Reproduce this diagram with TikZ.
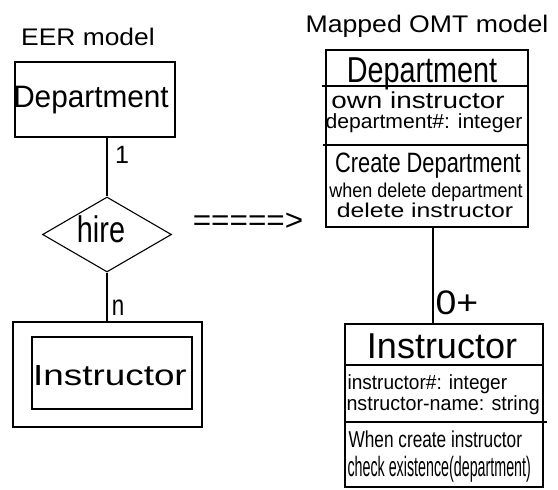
\documentclass[tikz,border=0pt]{standalone}
\usepackage{fontspec}
\setmainfont{Liberation Sans}
\usepackage{graphicx}
\usetikzlibrary{shapes.geometric}
\newcommand{\ftxt}[3]{{\fontsize{#1pt}{#1pt}\selectfont\scalebox{#2}[1]{#3}}}
\begin{document}
\begin{tikzpicture}[x=1pt,y=-1pt, line width=1.1pt,
  lbl/.style={inner sep=0pt, anchor=base},
  lbll/.style={inner sep=0pt, anchor=base west},
  box/.style={draw, rectangle, inner sep=0pt},
  rel/.style={draw, diamond, inner sep=0pt}]
\useasboundingbox (0,0) rectangle (558,490);

% ---------- EER side ----------
\node[lbl] (eertitle) at (88,45) {\ftxt{24}{1.1}{EER model}};
\node[box, minimum width=160pt, minimum height=75pt] (erdep) at (95,99.5) {};
\node[lbl] (erdeptxt) at (91,107) {\ftxt{31}{0.96}{Department}};
\node[rel, minimum width=129pt, minimum height=75pt] (hire) at (107,234.5) {};
\node[lbl] (hiretxt) at (101,242) {\ftxt{37}{0.78}{hire}};
\node[box, minimum width=189pt, minimum height=105pt] (erinst) at (107.5,374.5) {};
\node[box, minimum width=160pt, minimum height=72pt] (erinstin) at (112,373) {};
\node[lbl] (erinsttxt) at (110,385) {\ftxt{29}{1.27}{Instructor}};
\draw (hire.north |- erdep.south) -- (hire.north);
\draw (hire.south) -- (hire.south |- erinst.north);
\node[lbl] (one) at (122,163) {\ftxt{25}{1}{1}};
\node[lbl] (many) at (118,315) {\ftxt{29}{0.77}{n}};

% ---------- mapping arrow ----------
\node[inner sep=0pt] (maparrow) at (248,222) {\ftxt{30}{1.05}{=====>}};

% ---------- OMT side ----------
\node[lbl] (omttitle) at (427,32) {\ftxt{24}{1.11}{Mapped OMT model}};
\node[box, minimum width=202pt, minimum height=177pt] (omtdep) at (427,138.5) {};
\draw (322,86) -- (omtdep.east |- 0,86);
\draw (323,145) -- (omtdep.east |- 0,145);
\node[lbl] (od1) at (422,82) {\ftxt{36}{0.8}{Department}};
\node[lbl] (od2) at (418,108) {\ftxt{23}{1.21}{own instructor}};
\node[lbl] (od3) at (424,128) {\ftxt{20.5}{1.03}{department\#: integer}};
\node[lbl] (od4) at (428,172) {\ftxt{28}{0.78}{Create Department}};
\node[lbl] (od5) at (426,197) {\ftxt{20}{0.9}{when delete department}};
\node[lbl] (od6) at (425,217) {\ftxt{20}{1.24}{delete instructor}};

\node[box, minimum width=198pt, minimum height=163pt] (omtinst) at (444,405.5) {};
\draw (omtinst.west |- 0,365) -- (omtinst.east |- 0,365);
\draw (omtinst.west |- 0,422) -- (547,422);
\node[lbl] (oi1) at (442,358) {\ftxt{36}{1.0}{Instructor}};
\node[lbll] (oi2) at (347,389) {\ftxt{20.5}{0.93}{instructor\#: integer}};
\node[lbll] (oi3) at (346,410) {\ftxt{20.5}{0.96}{nstructor-name: string}};
\node[lbll] (oi4) at (348,447) {\ftxt{23}{0.75}{When create instructor}};
\node[lbll] (oi5) at (347,476) {\ftxt{28}{0.51}{check existence(department)}};

\coordinate (assoctop) at ([xshift=6pt]omtdep.south);
\draw (assoctop) -- (assoctop |- omtinst.north);
\node[lbl] (zeroplus) at (457,314) {\ftxt{34}{1.1}{0+}};
\end{tikzpicture}
\end{document}
